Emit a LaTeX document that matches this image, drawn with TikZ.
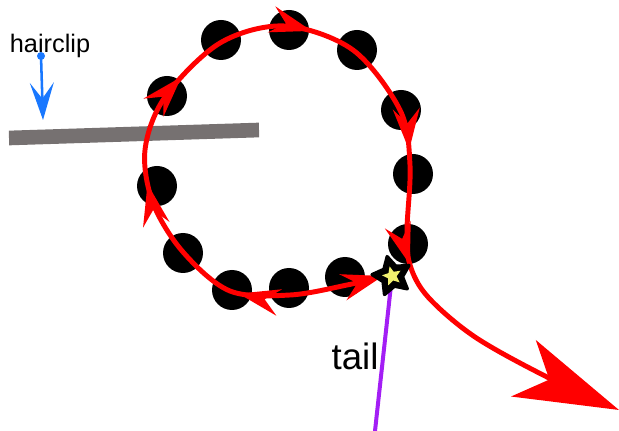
\documentclass[tikz,border=0pt]{standalone}
\usepackage{fontspec}
\setmainfont{Liberation Sans}
\usetikzlibrary{arrows.meta,shapes.geometric,decorations.markings}
\definecolor{xam}{RGB}{118,113,113}
\definecolor{tim}{RGB}{163,30,245}
\definecolor{xanh}{RGB}{25,120,255}
\definecolor{vang}{RGB}{240,240,110}
\begin{document}
\begin{tikzpicture}[>={Stealth[length=31pt,width=20pt,inset=11pt]},x=0.75pt,y=-0.75pt]
			\def\rc{15pt}
			\useasboundingbox (0,0) rectangle (619,431);
			\draw[xam,line width=11pt] (9,138) -- (259,130); % thanh ngang
			\coordinate (kep) at (41,56);
			\coordinate (kepday) at (43,120);
			\node[font=\fontsize{19}{19}\selectfont,anchor=base] (hairclip) at (50,53) {hairclip};
			\draw[xanh,line width=1.9pt,-{Stealth[length=28pt,width=18pt,inset=12pt]}] (kep) -- (kepday);
			\fill[xanh] (kep) circle (3pt);
			\foreach \p in {(221,40),(289,30),(357,50),(167,96),(401,110),(413,174),(157,186),(408,244),(183,253),(232,290),(289,288),(345,277)}
				\fill[black] \p circle (\rc); % các hạt
			\coordinate (sao) at (392,276);
			\coordinate (day) at (375,431);
			\draw[tim,line width=3pt] (sao) -- (day); % đuôi
			\node[font=\fontsize{27.5}{27.5}\selectfont,anchor=base] (tail) at (355,370) {tail};
			\draw[red,line width=3.7pt,<-{Stealth[length=78pt,width=46pt,inset=21pt]},
				decoration={markings,
					mark=at position 110pt with {\arrow{>}},
					mark=at position 221pt with {\arrow{>}},
					mark=at position 309pt with {\arrow{>}},
					mark=at position 419pt with {\arrow{>}},
					mark=at position 542pt with {\arrow{>}},
					mark=at position 628pt with {\arrow{>}}},postaction={decorate}]
				plot[smooth,tension=0.55] coordinates {(383,276) (347,285) (290,295) (230,291) (183,252) (153,203) (145,150) (165,97) (220,43) (285,26) (353,50) (400,110) (410,165) (407,230) (410,265) (428,297) (475,337) (547,377) (619,410)}; % vòng xoắn
			\node[star,star points=5,star point ratio=1.9,fill=black,draw=black,line width=2.5pt,line join=round,minimum size=30pt,inner sep=0pt,rotate=14] (ngoisao) at (sao) {};
			\node[star,star points=5,star point ratio=2.2,fill=vang,minimum size=15pt,inner sep=0pt,rotate=14] (ngoisaonho) at (sao) {};
\end{tikzpicture}
\end{document}
